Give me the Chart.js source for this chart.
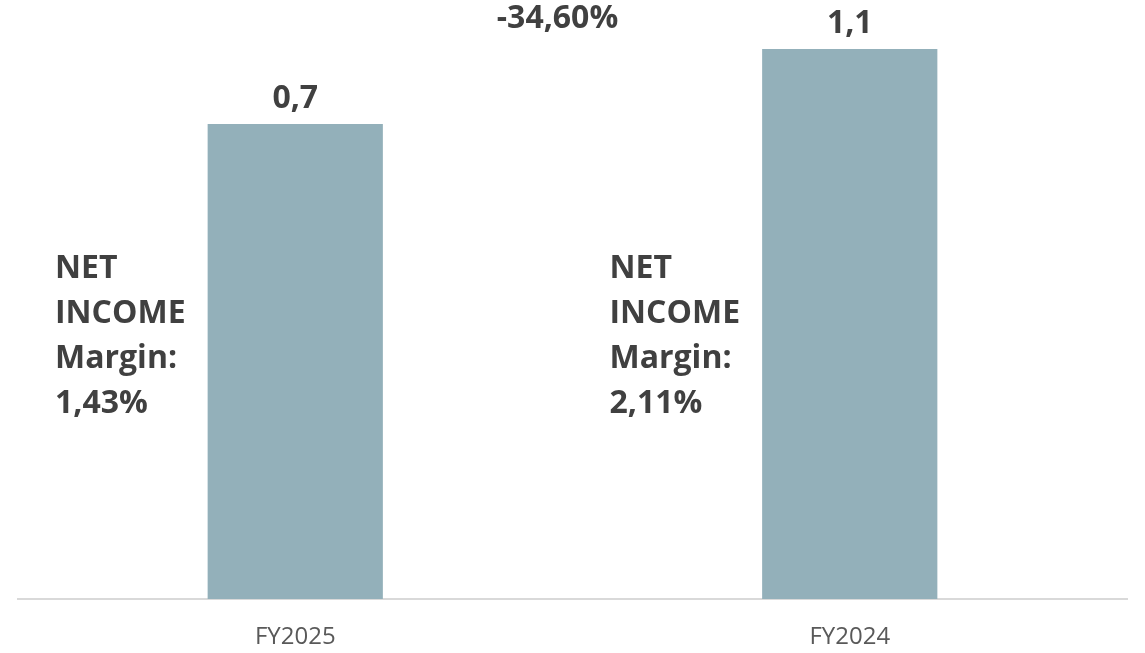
<!DOCTYPE html>
<html>
<head>
<meta charset="utf-8">
<script src="https://cdn.jsdelivr.net/npm/chart.js@4/dist/chart.umd.min.js"></script>
<style>
  html, body { margin: 0; padding: 0; background: #fff; }
  #wrap { width: 1145px; height: 653px; }
</style>
</head>
<body>
<div id="wrap"><canvas id="netIncomeChart"></canvas></div>
<script>
const years = ['FY2025', 'FY2024'];
const netIncome = [0.7, 1.1];
const margins = [1.43, 2.11];
const changePct = -34.60;

// value axis as it is drawn in the picture (does not start at zero)
const axisMin = -1.833;
const axisMax = 1.1;

const fmt = (v, d) => v.toFixed(d).replace('.', ',');

const labelsPlugin = {
    id: 'labels',
    afterDatasetsDraw(chart) {
        const ctx = chart.ctx;
        const xs = chart.scales.x;
        const bars = chart.getDatasetMeta(0).data;
        ctx.save();
        ctx.fillStyle = '#404040';
        ctx.font = 'bold 32px "Open Sans"';
        ctx.textBaseline = 'alphabetic';

        ctx.textAlign = 'center';
        bars.forEach((bar, i) => {
            ctx.fillText(fmt(netIncome[i], 1), bar.x, bar.y - 16);
        });

        ctx.fillText(fmt(changePct, 2) + '%', xs.getPixelForValue(0.5) - 15, 28);

        ctx.textAlign = 'left';
        const step = xs.width / years.length;
        years.forEach((y, i) => {
            const left = xs.left + step * i + 37;
            const lines = ['NET', 'INCOME', 'Margin:', fmt(margins[i], 2) + '%'];
            lines.forEach((t, j) => ctx.fillText(t, left, 278 + j * 45));
        });
        ctx.restore();
    }
};

new Chart(document.getElementById('netIncomeChart').getContext('2d'), {
    type: 'bar',
    data: {
        labels: years,
        datasets: [{
            data: netIncome,
            base: axisMin,
            backgroundColor: '#93B0BA',
            categoryPercentage: 1,
            barPercentage: 0.316
        }]
    },
    options: {
        responsive: true,
        maintainAspectRatio: false,
        animation: false,
        layout: { padding: { top: 49, left: 18, right: 18, bottom: 3 } },
        plugins: {
            legend: { display: false },
            tooltip: { enabled: false }
        },
        scales: {
            x: {
                grid: { display: false },
                border: { display: true, color: '#D9D9D9', width: 2 },
                afterFit(scale) { scale.height = 51; },
                ticks: {
                    color: '#595959',
                    padding: 16,
                    font: { family: '"Open Sans"', size: 24 }
                }
            },
            y: {
                display: false,
                min: axisMin,
                max: axisMax
            }
        }
    },
    plugins: [labelsPlugin]
});
</script>
</body>
</html>
